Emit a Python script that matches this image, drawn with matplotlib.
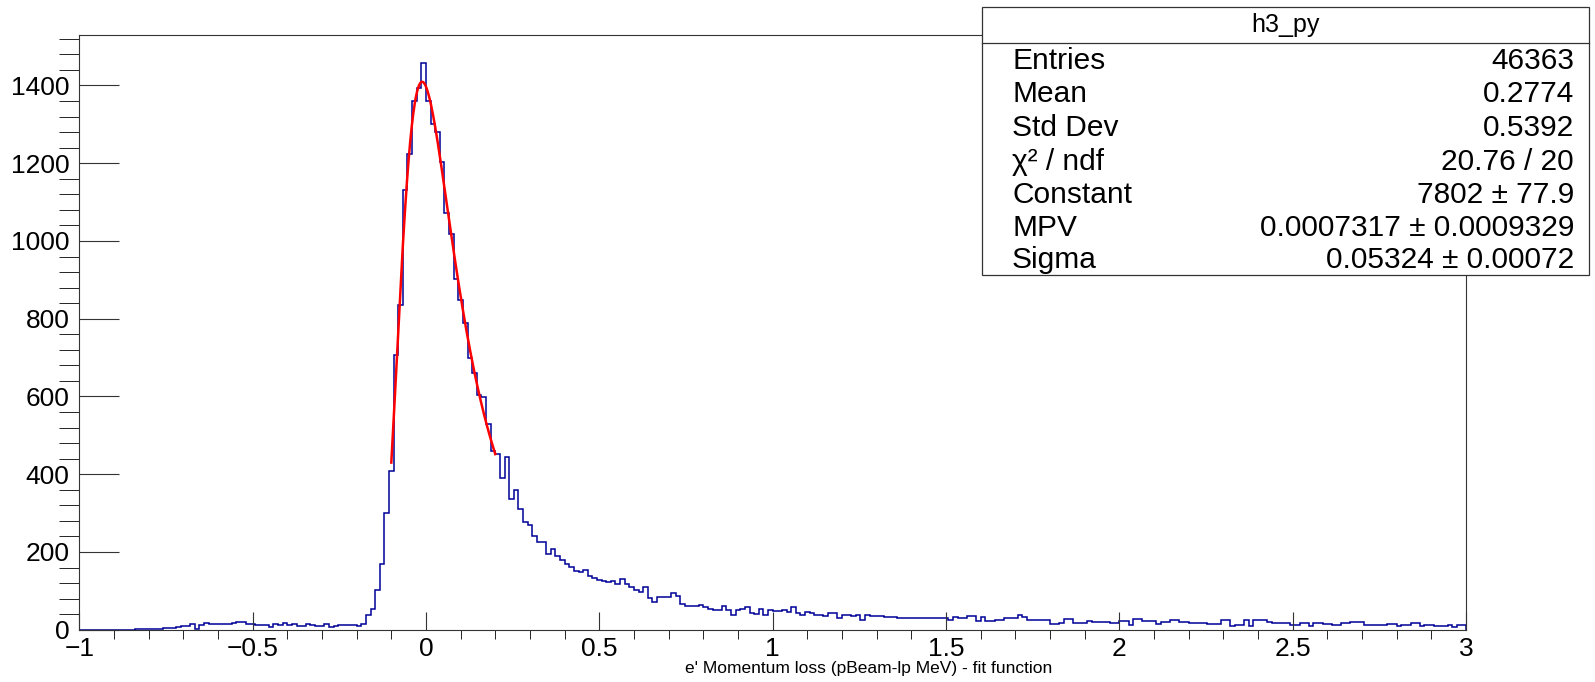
import numpy as np
import matplotlib
matplotlib.use('Agg')
import matplotlib.pyplot as plt
from matplotlib.patches import Rectangle
from matplotlib.lines import Line2D
from matplotlib.ticker import MultipleLocator

plt.rcParams['font.family'] = ['Liberation Sans', 'DejaVu Sans']

# histogram h3_py : 300 bins on [-1, 3]
x_lo, x_hi, n_bins = -1.0, 3.0, 300

counts_left = [0] * 12 + [
    1, 1, 2, 2, 2, 3, 5, 5, 5, 7,
    10, 10, 14, 2, 11, 17, 15, 15, 14, 14,
    14, 17, 20, 20, 15, 15, 12, 12, 12, 7,
    15, 11, 17, 11, 14, 9, 9, 15, 11, 9,
    9, 14, 7, 9, 11, 11, 11, 11,
]
counts_peak = [
    9, 15, 37, 54, 103, 169, 300, 409, 707, 835,
    1130, 1223, 1359, 1394, 1458, 1359, 1302, 1280, 1202, 1072,
    1017, 901, 847, 788, 699, 660, 603, 599, 528, 460,
    452, 390, 445, 335, 360, 310, 278, 270, 240, 226,
    225, 196, 207, 190, 179, 170, 162, 150, 148, 154,
    138, 132,
]
counts_mid = [
    128, 124, 122, 124, 118, 130, 118, 110, 101, 98,
    109, 81, 72, 83, 85, 85, 94, 87, 66, 61,
    60, 61, 63, 59, 54, 50, 50, 62, 50, 38,
    50, 52, 59, 44, 40, 52, 38, 50, 48, 47,
    50, 45, 59, 42, 38, 46, 42, 38, 38, 34,
    42, 42, 30, 38, 38, 34, 38, 25, 38, 34,
    34,
]
counts_tail = [
    36, 33, 33, 33, 30, 30, 30, 30, 30, 29,
    29, 29, 30, 30, 30, 25, 33, 30, 30, 34,
    34, 22, 33, 22, 22, 26, 26, 30, 30, 30,
    39, 32, 26, 25, 25, 25, 25, 14, 14, 17,
    28, 28, 17, 17, 17, 22, 20, 20, 20, 20,
    17, 17, 22, 22, 12, 28, 28, 22, 22, 22,
    14, 20, 20, 26, 26, 20, 20, 18, 18, 17,
    17, 14, 14, 14, 26, 26, 10, 12, 12, 26,
    10, 25, 26, 26, 20, 16, 16, 18, 18, 12,
    12, 17, 17, 10, 18, 18, 14, 14, 12, 12,
    17, 17, 20, 20, 20, 12, 12, 12, 12, 12,
    14, 14, 10, 12, 12, 18, 18, 9, 12, 12,
    9, 10, 10, 11, 8, 13, 11,
]
counts = np.array(counts_left + counts_peak + counts_mid + counts_tail, dtype=float)
edges = np.linspace(x_lo, x_hi, n_bins + 1)

# Landau fit parameters (from the stat box)
fit_const, fit_mpv, fit_sigma = 7802.0, 0.0007317, 0.05324
fit_range = (-0.1, 0.2)

stat_title = 'h3_py'
stat_rows = [
    ('Entries', '46363'),
    ('Mean', '0.2774'),
    ('Std Dev', '0.5392'),
    ('\u03c7\u00b2 / ndf', '20.76 / 20'),
    ('Constant', '7802 \u00b1 77.9'),
    ('MPV', '0.0007317 \u00b1 0.0009329'),
    ('Sigma', '0.05324 \u00b1 0.00072'),
]


def landau(lam):
    # ROOT TMath::Landau (unnormalised) via its integral representation
    t = np.linspace(1e-7, 40, 20001)
    f = np.exp(-t * np.log(t) - np.outer(lam, t)) * np.sin(np.pi * t)
    return np.trapezoid(f, t, axis=1) / np.pi


W, H = 1595, 682
fig = plt.figure(figsize=(W / 100, H / 100), dpi=100)
ax = fig.add_axes([79.3 / W, 1 - 629.7 / H, (1466 - 79.3) / W, (629.7 - 34.6) / H])

ax.stairs(counts, edges, color='#000099', lw=1.1)

xf = np.linspace(fit_range[0], fit_range[1], 200)
yf = fit_const * landau((xf - fit_mpv) / fit_sigma)
ax.plot(xf, yf, color='red', lw=1.8)

ax.set_xlim(x_lo, x_hi)
ax.set_ylim(0, counts.max() * 1.05)

ax.xaxis.set_major_locator(MultipleLocator(0.5))
ax.xaxis.set_minor_locator(MultipleLocator(0.1))
ax.yaxis.set_major_locator(MultipleLocator(200))
ax.yaxis.set_minor_locator(MultipleLocator(40))
ax.xaxis.set_major_formatter(plt.FuncFormatter(lambda v, p: ('%g' % v).replace('-', '\u2212')))

ax.tick_params(direction='in', top=False, right=False, labelsize=19, width=0.8, color='#333333')
ax.tick_params(axis='x', which='major', length=13, pad=5)
ax.tick_params(axis='x', which='minor', length=6.5)
ax.tick_params(axis='y', which='major', length=29, pad=7)
ax.tick_params(axis='y', which='minor', length=14.5)
for s in ax.spines.values():
    s.set_linewidth(0.8)
    s.set_color('#333333')

fig.text(685 / W, 1 - 669 / H, "e' Momentum loss (pBeam-lp MeV) - fit function",
         ha='left', va='center', fontsize=12.5)

# stat box
bx0, bx1, by0, by1 = 982, 1589, 7, 275
fig.add_artist(Rectangle((bx0 / W, 1 - by1 / H), (bx1 - bx0) / W, (by1 - by0) / H,
                         transform=fig.transFigure, facecolor='white',
                         edgecolor='#333333', lw=0.9, zorder=5))
fig.add_artist(Line2D([bx0 / W, bx1 / W], [1 - 43 / H, 1 - 43 / H],
                      transform=fig.transFigure, color='#333333', lw=0.9, zorder=6))
fig.text((bx0 + bx1) / 2 / W, 1 - 25 / H, stat_title, ha='center', va='center',
         fontsize=18, zorder=7)
row_y = [61, 94.5, 128, 161.5, 195, 228, 260.5]
for (name, val), yy in zip(stat_rows, row_y):
    fig.text(1012 / W, 1 - yy / H, name, ha='left', va='center', fontsize=21.5, zorder=7)
    fig.text(1574 / W, 1 - yy / H, val, ha='right', va='center', fontsize=21.5, zorder=7)

fig.savefig('out.png', dpi=100)
